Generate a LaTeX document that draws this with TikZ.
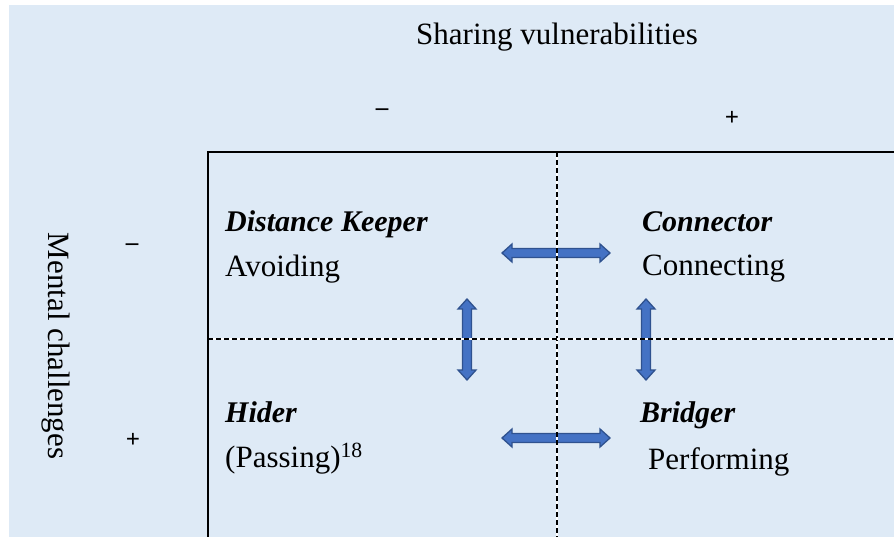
\documentclass[tikz,border=0pt]{standalone}
\usepackage{fontspec}
\setmainfont{Liberation Serif}
\usetikzlibrary{positioning}

\definecolor{panelblue}{HTML}{DEEAF6}
\definecolor{arrowfill}{HTML}{4472C4}
\definecolor{arrowline}{HTML}{2F528F}

\tikzset{
  lbl/.style={font=\fontsize{31}{37}\selectfont, inner sep=0pt},
  role/.style={lbl, font=\fontsize{30}{36}\selectfont\bfseries\itshape, anchor=base west},
  mode/.style={lbl, anchor=base west},
  sign/.style={font=\fontsize{25}{27}\selectfont\bfseries, inner sep=0pt},
  axis/.style={line width=1.8pt},
  split/.style={line width=1.8pt, dash pattern=on 5pt off 3pt},
  gap/.style={line width=1.8pt, white},
  pics/twoway/.style={code={
    \filldraw[fill=arrowfill, draw=arrowline, line width=1.3pt]
      (-#1,0) -- (-#1+10,9) -- (-#1+10,4.5) -- (#1-10,4.5) -- (#1-10,9) -- (#1,0)
      -- (#1-10,-9) -- (#1-10,-4.5) -- (-#1+10,-4.5) -- (-#1+10,-9) -- cycle;
  }}
}

\begin{document}
\begin{tikzpicture}[x=1pt, y=-1pt]
  \useasboundingbox (0,0) rectangle (894,537);
  \fill[panelblue] (9,5) rectangle (894,537);

  % two-way arrows between the quadrants
  \pic at (556,253) {twoway=54};
  \pic at (556,438) {twoway=54};
  \pic[rotate=90] at (467,339.5) {twoway=40.5};
  \pic[rotate=90] at (646,339.5) {twoway=40.5};

  % frame and splits
  \coordinate (nw) at (208,152);
  \coordinate (ne) at (894,152);
  \coordinate (sw) at (208,537);
  \coordinate (vtop) at (557,152);
  \coordinate (vbot) at (557,537);
  \coordinate (hleft) at (208,339);
  \coordinate (hright) at (894,339);
  \draw[gap] (vtop) -- (vbot);
  \draw[split] (vtop) -- (vbot);
  \draw[gap] (hleft) -- (hright);
  \draw[split] (hleft) -- (hright);
  \draw[axis] (ne) -- (nw) -- (sw);

  % axes
  \node[lbl, anchor=base] (sharing) at (557,45) {Sharing vulnerabilities};
  \node[sign] (shminus) at (382,112) {–};
  \node[sign] (shplus) at (732,118) {+};
  \node[lbl, rotate=-90] (mental) at (56,346) {Mental challenges};
  \node[sign] (mcminus) at (132,247) {–};
  \node[sign] (mcplus) at (133,440) {+};

  % quadrants
  \node[role] (keeper) at (225,232) {Distance Keeper};
  \node[mode] (avoiding) at (225,277) {Avoiding};
  \node[role] (connector) at (642,232) {Connector};
  \node[mode] (connecting) at (642,276) {Connecting};
  \node[role] (hider) at (225,422) {Hider};
  \node[mode] (passing) at (225,467) {(Passing)\textsuperscript{18}};
  \node[role] (bridger) at (640,422) {Bridger};
  \node[mode] (performing) at (648,469) {Performing};
\end{tikzpicture}
\end{document}
